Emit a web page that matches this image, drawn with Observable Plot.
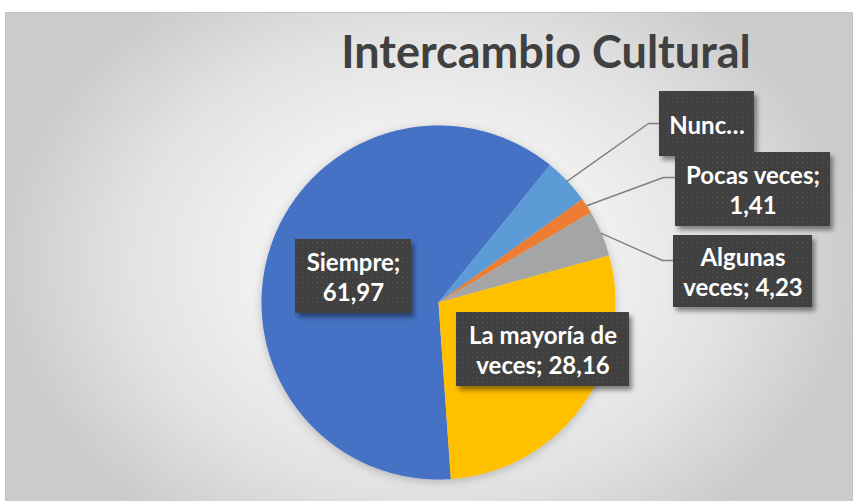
<!DOCTYPE html>
<html><head><meta charset="utf-8">
<script src="https://cdn.jsdelivr.net/npm/d3@7"></script>
<script src="https://cdn.jsdelivr.net/npm/@observablehq/plot@0.6"></script>
<style>
html,body{margin:0;padding:0;background:#fff;overflow:hidden;}
#wrap{position:relative;width:853px;height:501px;overflow:hidden;}
#bg{position:absolute;left:5px;top:12px;width:846px;height:540px;border:1px solid #c4c4c4;
  background:radial-gradient(ellipse 430px 330px at 423px 250px, #ffffff 0%, #f3f3f3 35%, #e2e2e2 70%, #cbcbcb 100%);}
#title{position:absolute;left:246px;top:29px;width:600px;text-align:center;font:bold 45px Lato, sans-serif;line-height:45px;color:#404040;white-space:nowrap;}
#chart{position:absolute;left:0;top:0;}
</style>
</head><body>
<div id="wrap"><div id="bg"></div><div id="title">Intercambio Cultural</div><div id="chart"></div></div>
<script>
// ---- data ----
const categories = ["Siempre", "Nunca", "Pocas veces", "Algunas veces", "La mayoría de veces"];
const values = [61.97, 4.23, 1.41, 4.23, 28.16];
const labelTexts = ["Siempre;\n61,97", "Nunc…", "Pocas veces;\n1,41", "Algunas\nveces; 4,23", "La mayoría de\nveces; 28,16"];
const colors = ["#4472C4", "#5B9BD5", "#ED7D31", "#A5A5A5", "#FFC000"];

// ---- layout ----
const W = 853, H = 501, CX = 438, CY = 302, R = 177, START_DEG = 176;
// label box centre offset from pie centre (px), box size, leader line (null = inside)
const labelLayout = [
  {dx: -85, dy: -26, w: 116, h: 74, leader: null},
  {dx: 268.5, dy: -178.5, w: 95, h: 65, leader: {gap: 11, dy: -0.5}},
  {dx: 314.5, dy: -113, w: 155, h: 74, leader: {gap: 12, dy: -12}},
  {dx: 304.5, dy: -31, w: 139, h: 72, leader: {gap: 11, dy: -11}},
  {dx: 104.5, dy: 47, w: 173, h: 74, leader: null}
];

const ux = px => px / R;       // px offset -> chart units (x)
const uy = py => -py / R;      // px offset -> chart units (y, up)

const arcs = d3.pie().sort(null).value(d => d)
  .startAngle(START_DEG * Math.PI / 180)
  .endAngle(START_DEG * Math.PI / 180 + 2 * Math.PI)(values);

const slicePts = [];
arcs.forEach((a, i) => {
  const cat = categories[i];
  slicePts.push({cat, x: 0, y: 0});
  const n = Math.max(2, Math.ceil((a.endAngle - a.startAngle) / (0.4 * Math.PI / 180)));
  for (let k = 0; k <= n; k++) {
    const t = a.startAngle + (a.endAngle - a.startAngle) * k / n;
    slicePts.push({cat, x: Math.sin(t), y: Math.cos(t)});
  }
  slicePts.push({cat, x: 0, y: 0});
});

const boxes = labelLayout.map((L, i) => ({
  cat: categories[i], text: labelTexts[i],
  x: ux(L.dx), y: uy(L.dy),
  x1: ux(L.dx - L.w / 2), x2: ux(L.dx + L.w / 2),
  y1: uy(L.dy - L.h / 2), y2: uy(L.dy + L.h / 2)
}));

const leaderPts = [];
labelLayout.forEach((L, i) => {
  if (!L.leader) return;
  const a = arcs[i], m = (a.startAngle + a.endAngle) / 2;
  const left = L.dx - L.w / 2, yy = L.dy + L.leader.dy;
  leaderPts.push({cat: categories[i], x: Math.sin(m), y: Math.cos(m)});
  leaderPts.push({cat: categories[i], x: ux(left - L.leader.gap), y: uy(yy)});
  leaderPts.push({cat: categories[i], x: ux(left), y: uy(yy)});
});

const plot = Plot.plot({
  width: W, height: H, margin: 0,
  style: {background: "transparent", overflow: "visible"},
  x: {domain: [-CX / R, (W - CX) / R], range: [0, W], axis: null},
  y: {domain: [-(H - CY) / R, CY / R], range: [H, 0], axis: null},
  color: {domain: categories, range: colors},
  marks: [
    Plot.line(slicePts, {x: "x", y: "y", z: "cat", fill: "cat", stroke: "none", curve: "linear"}),
    Plot.line(leaderPts, {x: "x", y: "y", z: "cat", stroke: "#7f7f7f", strokeWidth: 1.4}),
    Plot.rect(boxes, {x1: "x1", x2: "x2", y1: "y1", y2: "y2", fill: "url(#dots)"}),
    Plot.text(boxes, {x: "x", y: "y", text: "text", fill: "white", fontSize: 24, fontWeight: "bold",
      fontFamily: "Lato, sans-serif", lineHeight: 1.27})
  ]
});

// defs: dotted pattern + shadows
const ns = "http://www.w3.org/2000/svg";
const defs = document.createElementNS(ns, "defs");
defs.innerHTML = `
  <pattern id="dots" patternUnits="userSpaceOnUse" width="5" height="5">
    <rect width="5" height="5" fill="#3f3f3f"/>
    <rect x="2" y="2" width="1" height="1" fill="#575757"/>
  </pattern>
  <filter id="pieShadow" x="-20%" y="-20%" width="140%" height="140%">
    <feDropShadow dx="0" dy="2" stdDeviation="5" flood-color="#000" flood-opacity="0.22"/>
  </filter>
  <filter id="boxShadow" x="-20%" y="-20%" width="140%" height="150%">
    <feDropShadow dx="3" dy="4" stdDeviation="2.5" flood-color="#000" flood-opacity="0.45"/>
  </filter>`;
plot.insertBefore(defs, plot.firstChild);
const groups = plot.querySelectorAll(":scope > g");
// order: slices, leaders, rects, text
if (groups[0]) groups[0].setAttribute("filter", "url(#pieShadow)");
if (groups[2]) groups[2].setAttribute("filter", "url(#boxShadow)");

document.getElementById("chart").appendChild(plot);
</script>
</body></html>
